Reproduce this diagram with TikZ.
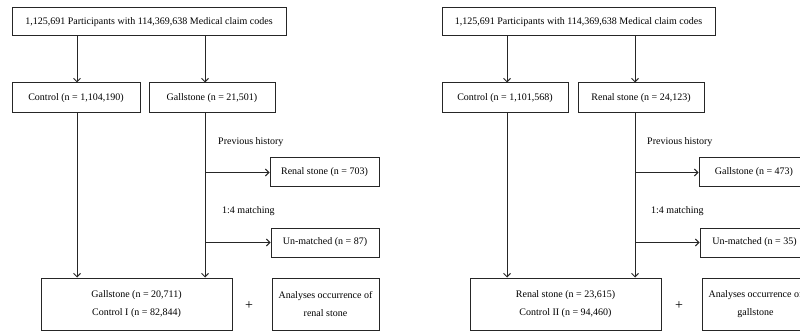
\documentclass[tikz,border=0pt]{standalone}
\usepackage{fontspec}
\setmainfont{Liberation Serif}
\usetikzlibrary{arrows.meta}
\begin{document}
\begin{tikzpicture}[x=1pt,y=-1pt,
  box/.style={draw=black!85,line width=1pt,inner sep=0pt,align=center,font=\fontsize{10}{12}\selectfont},
  tall/.style={box,font=\fontsize{10}{17.5}\selectfont},
  lbl/.style={inner sep=0pt,anchor=west,font=\fontsize{10}{12}\selectfont},
  plussign/.style={inner sep=0pt,font=\fontsize{14}{14}\selectfont},
  arr/.style={draw=black!85,line width=1pt,-{Straight Barb[length=3.5pt,width=7pt,line width=1pt]}}]
\useasboundingbox (0,0) rectangle (800,331);
\clip (0,0) rectangle (800,331);
% ---------------- left panel ----------------
\node[box,minimum width=274pt,minimum height=28pt] (ltop) at (149,22) {1,125,691 Participants with 114,369,638 Medical claim codes};
\node[box,minimum width=128pt,minimum height=30pt] (lctrl) at (76,98) {Control (n = 1,104,190)};
\node[box,minimum width=126pt,minimum height=30pt] (lgs) at (212,98) {Gallstone (n = 21,501)};
\node[lbl] (lprev) at (218,142) {Previous history};
\node[box,minimum width=109pt,minimum height=29pt] (lrs) at (324.5,172.5) {Renal stone (n = 703)};
\node[lbl] (lmatch) at (222,211) {1:4 matching};
\node[box,minimum width=108pt,minimum height=29pt] (lum) at (325,242.5) {Un-matched (n = 87)};
\node[tall,minimum width=191pt,minimum height=52pt] (lbot) at (136.5,304) {Gallstone (n = 20,711)\\Control I (n = 82,844)};
\node[plussign] (lplus) at (249,306) {+};
\node[tall,minimum width=107pt,minimum height=52pt] (lan) at (325.5,304) {Analyses occurrence of\\renal stone};
\coordinate (lx1) at (77,0);
\coordinate (lx2) at (205,0);
\draw[arr] (lx1 |- ltop.south) -- (lx1 |- lctrl.north);
\draw[arr] (lx2 |- ltop.south) -- (lx2 |- lgs.north);
\draw[arr] (lx1 |- lctrl.south) -- (lx1 |- lbot.north);
\draw[arr] (lx2 |- lgs.south) -- (lx2 |- lbot.north);
\draw[arr] (lx2 |- lrs.west) -- (lrs.west);
\draw[arr] (lx2 |- lum.west) -- (lum.west);
% ---------------- right panel ----------------
\node[box,minimum width=273pt,minimum height=28pt] (rtop) at (578.5,22) {1,125,691 Participants with 114,369,638 Medical claim codes};
\node[box,minimum width=126pt,minimum height=30pt] (rctrl) at (505,98) {Control (n = 1,101,568)};
\node[box,minimum width=126pt,minimum height=30pt] (rrs) at (641,98) {Renal stone (n = 24,123)};
\node[lbl] (rprev) at (647,142) {Previous history};
\node[box,minimum width=110pt,minimum height=29pt] (rgs) at (754,172.5) {Gallstone (n = 473)};
\node[lbl] (rmatch) at (651,211) {1:4 matching};
\node[box,minimum width=109pt,minimum height=29pt] (rum) at (754.5,242.5) {Un-matched (n = 35)};
\node[tall,minimum width=191pt,minimum height=52pt] (rbot) at (565.5,304) {Renal stone (n = 23,615)\\Control II\ (n = 94,460)};
\node[plussign] (rplus) at (679,306) {+};
\node[tall,minimum width=107pt,minimum height=52pt] (ran) at (755.5,304) {Analyses occurrence of\\gallstone};
\coordinate (rx1) at (507,0);
\coordinate (rx2) at (635,0);
\draw[arr] (rx1 |- rtop.south) -- (rx1 |- rctrl.north);
\draw[arr] (rx2 |- rtop.south) -- (rx2 |- rrs.north);
\draw[arr] (rx1 |- rctrl.south) -- (rx1 |- rbot.north);
\draw[arr] (rx2 |- rrs.south) -- (rx2 |- rbot.north);
\draw[arr] (rx2 |- rgs.west) -- (rgs.west);
\draw[arr] (rx2 |- rum.west) -- (rum.west);
\end{tikzpicture}
\end{document}
